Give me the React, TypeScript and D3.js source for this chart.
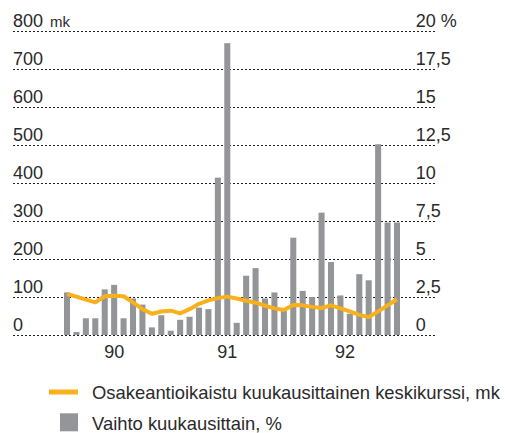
import * as d3 from 'd3';
import { useEffect, useRef } from "react";

// monthly data, 36 months (mid 1989 .. mid 1992)
const turnoverPct = [
  2.8, 0.2, 1.1, 1.1, 3.0, 3.3, 1.1, 2.4, 2.0, 0.5, 1.3, 0.28,
  1.0, 1.2, 1.8, 1.7, 10.35, 19.2, 0.8, 3.9, 4.4, 2.4, 2.8, 1.6,
  6.4, 2.9, 2.5, 8.05, 4.8, 2.6, 1.4, 4.0, 3.6, 12.55, 7.4, 7.4,
];
const avgPrice = [
  108, 101, 93, 86, 102, 103, 102, 86, 68, 56, 62, 64,
  57, 68, 82, 91, 97, 101, 96, 90, 85, 77, 70, 66,
  79, 78, 74, 71, 78, 70, 62, 53, 47, 62, 78, 94,
];
const leftTicks = [0, 100, 200, 300, 400, 500, 600, 700, 800];
const rightTicks = [0, 2.5, 5, 7.5, 10, 12.5, 15, 17.5, 20];
const yearLabels = ["90", "91", "92"];
const yearMonth = [5, 17, 29.5];
const legendLine = "Osakeantioikaistu kuukausittainen keskikurssi, mk";
const legendBar = "Vaihto kuukausittain, %";

const W = 505, H = 433;
const FONT = "'Liberation Sans', Arial, sans-serif";
const ORANGE = "#f8b01c";
const GREY = "#939598";

const App = () => {
    const svgRef = useRef(null);

    useEffect(() => {
        const svg = d3.select(svgRef.current)
            .attr('width', W)
            .attr('height', H);
        svg.selectAll('*').remove();

        const top = 31, bottom = 335;
        const yL = d3.scaleLinear().domain([0, 800]).range([bottom, top]);
        const yR = d3.scaleLinear().domain([0, 20]).range([bottom, top]);
        const x = d3.scaleBand()
            .domain(d3.range(turnoverPct.length))
            .range([62.3, 401.7])
            .paddingInner(0.36)
            .paddingOuter(0.18);
        const cx = (i) => x(i) + x.bandwidth() / 2;
        const step = x.step();

        // grid lines
        svg.append('g').selectAll('line')
            .data(leftTicks)
            .enter()
            .append('line')
            .attr('x1', 13).attr('x2', 435)
            .attr('y1', d => yL(d) + 0.5).attr('y2', d => yL(d) + 0.5)
            .attr('stroke', '#222')
            .attr('stroke-width', 1)
            .attr('stroke-dasharray', '2,2');

        // left labels
        const lt = svg.append('g')
            .style('font-family', FONT)
            .style('font-size', '18px')
            .attr('fill', '#2a2a2a');
        leftTicks.forEach(v => {
            lt.append('text')
                .attr('x', 13)
                .attr('y', yL(v) - 4.5)
                .text(v);
        });
        lt.append('text')
            .attr('x', 50)
            .attr('y', yL(800) - 4.5)
            .style('font-size', '15px')
            .text('mk');

        // right labels
        rightTicks.forEach(v => {
            lt.append('text')
                .attr('x', 415.7)
                .attr('y', yR(v) - 4.5)
                .text(v === 20 ? '20 %' : String(v).replace('.', ','));
        });

        // bars
        svg.append('g').selectAll('rect')
            .data(turnoverPct)
            .enter()
            .append('rect')
            .attr('x', (d, i) => x(i))
            .attr('y', d => yR(d))
            .attr('width', x.bandwidth())
            .attr('height', d => bottom - yR(d))
            .attr('fill', GREY);

        // line
        const line = d3.line()
            .x((d, i) => cx(i))
            .y(d => yL(d));
        svg.append('path')
            .datum(avgPrice)
            .attr('d', line)
            .attr('fill', 'none')
            .attr('stroke', ORANGE)
            .attr('stroke-width', 4)
            .attr('stroke-linejoin', 'round');

        // year labels
        yearLabels.forEach((l, k) => {
            lt.append('text')
                .attr('x', x(0) + x.bandwidth() / 2 + yearMonth[k] * step)
                .attr('y', 358.3)
                .attr('text-anchor', 'middle')
                .text(l);
        });

        // legend
        svg.append('line')
            .attr('x1', 49).attr('x2', 78)
            .attr('y1', 392).attr('y2', 392)
            .attr('stroke', ORANGE)
            .attr('stroke-width', 5);
        lt.append('text')
            .attr('x', 92)
            .attr('y', 398.5)
            .style('font-size', '18.4px')
            .text(legendLine);
        svg.append('rect')
            .attr('x', 60).attr('y', 413.3)
            .attr('width', 18).attr('height', 18)
            .attr('fill', GREY);
        lt.append('text')
            .attr('x', 92)
            .attr('y', 429.5)
            .style('font-size', '18.4px')
            .text(legendBar);
    });

    return (
        <div style={{ position: 'absolute', left: 0, top: 0 }}>
            <svg ref={svgRef} style={{ display: 'block' }} />
        </div>
    );
}

export default App;
